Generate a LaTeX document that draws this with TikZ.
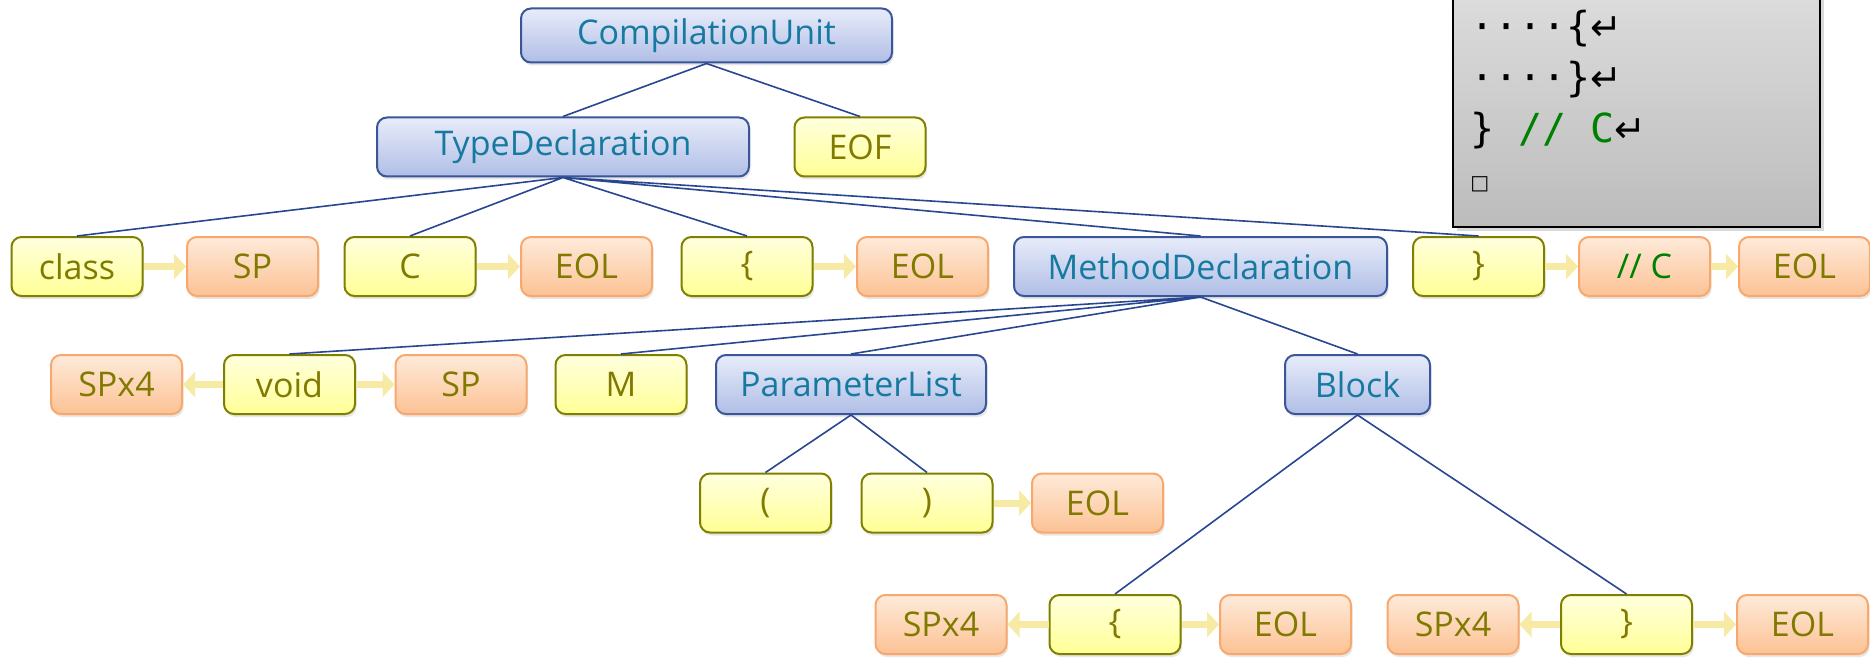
\documentclass[tikz,border=0pt]{standalone}
\usepackage{fontspec}
\setmainfont{Open Sans}
\newfontfamily\codefont{DejaVu Sans Mono}
\newfontfamily\markfont{DejaVu Sans}
\usetikzlibrary{arrows.meta,shadows}

\definecolor{ruleborder}{RGB}{56,86,152}
\definecolor{ruletop}{RGB}{232,236,250}
\definecolor{rulebot}{RGB}{176,190,230}
\definecolor{ruletext}{RGB}{22,122,160}
\definecolor{tokborder}{RGB}{128,128,0}
\definecolor{toktop}{RGB}{255,255,222}
\definecolor{tokbot}{RGB}{255,255,150}
\definecolor{toktext}{RGB}{128,122,0}
\definecolor{trivborder}{RGB}{248,168,108}
\definecolor{trivtop}{RGB}{254,234,218}
\definecolor{trivbot}{RGB}{252,194,148}
\definecolor{linkblue}{RGB}{40,70,145}
\definecolor{arrowyellow}{RGB}{246,234,164}
\definecolor{commentgreen}{RGB}{0,128,0}
\definecolor{codetop}{RGB}{222,222,222}
\definecolor{codebot}{RGB}{188,188,188}

\newcommand{\retmark}{{\markfont\fontsize{19pt}{19pt}\selectfont ↵}}

\tikzstyle{boxNode} = [rectangle, rounded corners=5pt, line width=1pt, minimum height=29.5pt, minimum width=65.5pt, inner sep=0pt, font=\fontsize{17pt}{20pt}\selectfont, drop shadow={opacity=0.2, shadow xshift=0.8pt, shadow yshift=-1.5pt}]
\tikzstyle{ruleNode} = [boxNode, draw=ruleborder, top color=ruletop, bottom color=rulebot, text=ruletext]
\tikzstyle{tokNode} = [boxNode, draw=tokborder, top color=toktop, bottom color=tokbot, text=toktext]
\tikzstyle{triviaNode} = [boxNode, draw=trivborder, top color=trivtop, bottom color=trivbot, text=toktext]
\tikzstyle{treeLine} = [draw=linkblue, line width=0.8pt]
\tikzstyle{seqArrow} = [draw=arrowyellow, line width=3.5pt, -{Triangle[length=6pt, width=12.5pt]}]
\tikzstyle{codeBox} = [rectangle, draw=black, line width=1.2pt, top color=codetop, bottom color=codebot, drop shadow={opacity=0.3, shadow xshift=2pt, shadow yshift=-2pt}]
\tikzstyle{codeLine} = [anchor=base west, inner sep=0pt, font=\codefont\fontsize{20pt}{24pt}\selectfont]

\begin{document}
\begin{tikzpicture}[x=0.5pt, y=-0.5pt]
\useasboundingbox (0,0) rectangle (1870,658);

\node [codeBox, minimum width=183.5pt, minimum height=124pt, anchor=south west] (Src) at (1452,228) {};
\node [codeLine] (Src_1) at (1470,41) {····\{\retmark};
\node [codeLine] (Src_2) at (1470,92) {····\}\retmark};
\node [codeLine] (Src_3) at (1470,143) {\} \textcolor{commentgreen}{// C}\retmark};
\node [codeLine] (Src_4) at (1470,190) {{\markfont\fontsize{10pt}{10pt}\selectfont □}};

\node [ruleNode, minimum width=185.5pt, minimum height=27pt] (CU) at (706.5,35.5) {CompilationUnit};
\node [ruleNode, minimum width=186pt] (Type_decl) at (563,147) {TypeDeclaration};
\node [tokNode] (Eof) at (860,147) {EOF};

\node [tokNode] (Class) at (77,266.5) {class};
\node [triviaNode] (Sp_a) at (252.5,266.5) {SP};
\node [tokNode] (Name_c) at (410,266.5) {C};
\node [triviaNode] (Eol_a) at (586.5,266.5) {EOL};
\node [tokNode] (Lbrace_a) at (747,266.5) {\{};
\node [triviaNode] (Eol_b) at (922.5,266.5) {EOL};
\node [ruleNode, minimum width=186.5pt] (Method_decl) at (1200.5,266.5) {MethodDeclaration};
\node [tokNode] (Rbrace_a) at (1478.5,266.5) {\}};
\node [triviaNode] (Comment) at (1644.5,266.5) {\textcolor{commentgreen}{// C}};
\node [triviaNode] (Eol_c) at (1804.5,266.5) {EOL};

\node [triviaNode] (Spx4_a) at (116.5,384.5) {SPx4};
\node [tokNode] (Void) at (289.5,384.5) {void};
\node [triviaNode] (Sp_b) at (461,384.5) {SP};
\node [tokNode] (Name_m) at (621,384.5) {M};
\node [ruleNode, minimum width=135pt] (Param_list) at (851,384.5) {ParameterList};
\node [ruleNode, minimum width=72.5pt] (Block) at (1357.5,384.5) {Block};

\node [tokNode] (Lparen) at (765.5,503) {(};
\node [tokNode] (Rparen) at (927,503) {)};
\node [triviaNode] (Eol_d) at (1097.5,503) {EOL};

\node [triviaNode] (Spx4_b) at (941,624.5) {SPx4};
\node [tokNode] (Lbrace_b) at (1115,624.5) {\{};
\node [triviaNode] (Eol_e) at (1285.5,624.5) {EOL};
\node [triviaNode] (Spx4_c) at (1453,624.5) {SPx4};
\node [tokNode] (Rbrace_b) at (1626.5,624.5) {\}};
\node [triviaNode] (Eol_f) at (1802.5,624.5) {EOL};

\draw [treeLine] (CU.south) -- (Type_decl.north) (CU.south) -- (Eof.north);
\draw [treeLine] (Type_decl.south) -- (Class.north) (Type_decl.south) -- (Name_c.north)
  (Type_decl.south) -- (Lbrace_a.north) (Type_decl.south) -- (Method_decl.north)
  (Type_decl.south) -- (Rbrace_a.north);
\draw [treeLine] (Method_decl.south) -- (Void.north) (Method_decl.south) -- (Name_m.north)
  (Method_decl.south) -- (Param_list.north) (Method_decl.south) -- (Block.north);
\draw [treeLine] (Param_list.south) -- (Lparen.north) (Param_list.south) -- (Rparen.north);
\draw [treeLine] (Block.south) -- (Lbrace_b.north) (Block.south) -- (Rbrace_b.north);

\draw [seqArrow] (Class) -- (Sp_a);
\draw [seqArrow] (Name_c) -- (Eol_a);
\draw [seqArrow] (Lbrace_a) -- (Eol_b);
\draw [seqArrow] (Rbrace_a) -- (Comment);
\draw [seqArrow] (Comment) -- (Eol_c);
\draw [seqArrow] (Void) -- (Spx4_a);
\draw [seqArrow] (Void) -- (Sp_b);
\draw [seqArrow] (Rparen) -- (Eol_d);
\draw [seqArrow] (Lbrace_b) -- (Spx4_b);
\draw [seqArrow] (Lbrace_b) -- (Eol_e);
\draw [seqArrow] (Rbrace_b) -- (Spx4_c);
\draw [seqArrow] (Rbrace_b) -- (Eol_f);
\end{tikzpicture}
\end{document}
